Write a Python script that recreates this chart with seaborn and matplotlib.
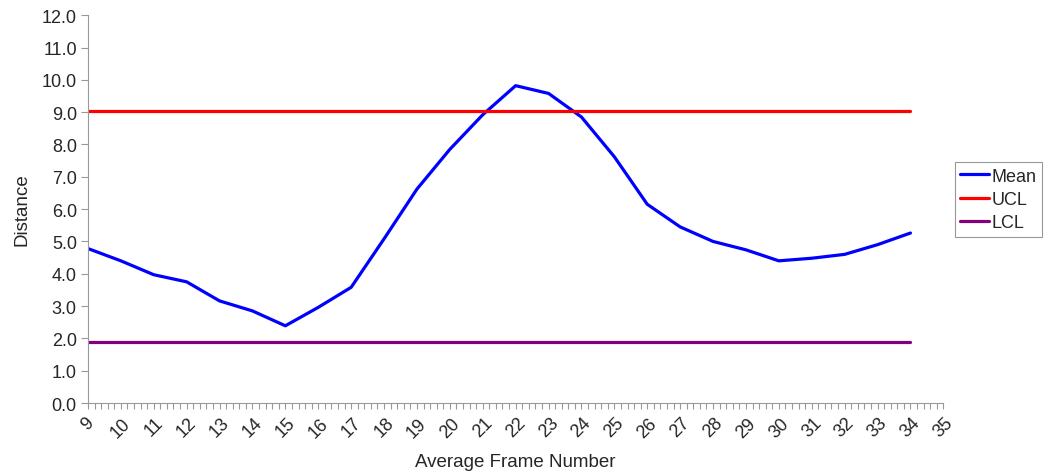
import pandas as pd
import seaborn as sns
import matplotlib.pyplot as plt
import numpy as np
from matplotlib.ticker import MultipleLocator, FormatStrFormatter

# === Data ===
frames = list(range(9, 35))
mean = [4.78, 4.40, 3.97, 3.75, 3.16, 2.85, 2.39, 2.96, 3.58, 5.08,
        6.62, 7.85, 8.92, 9.82, 9.58, 8.85, 7.62, 6.15, 5.45, 5.0,
        4.74, 4.40, 4.48, 4.60, 4.90, 5.26]
ucl = 9.05
lcl = 1.88
series = ["Mean", "UCL", "LCL"]
colors = ["#0000FF", "#FF0000", "#800080"]

# long-form table for seaborn
df = pd.concat([
    pd.DataFrame({"Frame": frames, "Distance": mean, "Series": "Mean"}),
    pd.DataFrame({"Frame": frames, "Distance": [ucl] * len(frames), "Series": "UCL"}),
    pd.DataFrame({"Frame": frames, "Distance": [lcl] * len(frames), "Series": "LCL"}),
])

# === Style ===
sns.set_style("white")
plt.rcParams['font.family'] = ['Liberation Sans', 'DejaVu Sans']

fig = plt.figure(figsize=(10.47, 4.77), dpi=100)
ax = fig.add_axes([0.084, 0.153, 0.817, 0.813])

sns.lineplot(data=df, x="Frame", y="Distance", hue="Series", hue_order=series,
             palette=colors, linewidth=2.3, ax=ax, legend=True)

# === Axes ===
ax.set_xlim(9, 35)
ax.set_ylim(0, 12)
ax.xaxis.set_major_locator(MultipleLocator(1))
ax.xaxis.set_minor_locator(MultipleLocator(0.2))
ax.yaxis.set_major_locator(MultipleLocator(1))
ax.yaxis.set_major_formatter(FormatStrFormatter('%.1f'))
ax.tick_params(axis='x', which='both', direction='out', length=4, width=0.8,
               color='#999999', bottom=True, labelsize=13, labelrotation=45, pad=4)
ax.tick_params(axis='y', direction='out', length=5, width=0.8, color='#999999',
               left=True, labelsize=13, pad=3)
for lbl in ax.get_xticklabels():
    lbl.set_ha('center')

sns.despine(ax=ax)
for side in ['left', 'bottom']:
    ax.spines[side].set_color('#999999')
    ax.spines[side].set_linewidth(0.8)

ax.set_xlabel("Average Frame Number", fontsize=13.5, labelpad=9)
ax.set_ylabel("Distance", fontsize=13.5, labelpad=8)

# legend outside on the right
handles, labels = ax.get_legend_handles_labels()
ax.get_legend().remove()
leg = fig.legend(handles, labels, loc='center left', bbox_to_anchor=(0.912, 0.58),
                 fontsize=13, frameon=True, fancybox=False, edgecolor='#7f7f7f',
                 handlelength=1.6, handletextpad=0.15, borderpad=0.3, labelspacing=0.35,
                 borderaxespad=0)
leg.get_frame().set_linewidth(0.8)

plt.savefig("out.png", dpi=100)
